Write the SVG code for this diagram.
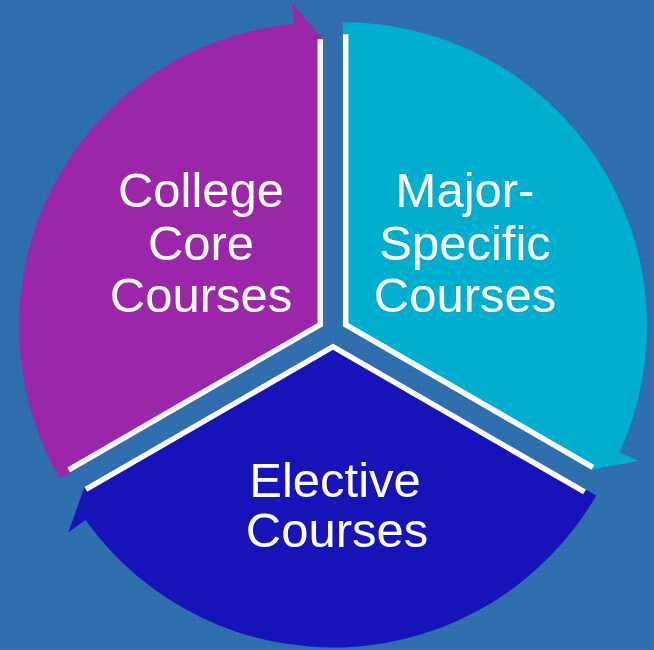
<svg xmlns="http://www.w3.org/2000/svg" width="654" height="650" viewBox="0 0 654 650">
  <style>
    .lbl { font-family: "Liberation Sans", Arial, sans-serif; font-size: 49px; fill: #ffffff; text-anchor: middle; }
    .edge { fill: none; stroke: #ffffff; stroke-width: 11; stroke-linejoin: miter; }
  </style>
  <defs>
    <pattern id="tex" width="8" height="8" patternUnits="userSpaceOnUse">
      <rect width="8" height="8" fill="#2f6fae"/>
      <rect x="0" y="3" width="8" height="1" fill="#2a66a3" opacity="0.6"/>
      <rect x="5" y="0" width="1" height="8" fill="#3574b3" opacity="0.6"/>
    </pattern>
    <path id="wPurple" d="M323,326.25 L59.73,478.25 A304,304 0 0 1 293.86,23.65 L291.85,2.75 L323,39.25 Z"/>
    <path id="wCyan" d="M342.96,326.25 L342.96,22.25 A304,304 0 0 1 619.59,452.32 L638.7,461.02 L591.51,469.75 Z"/>
    <path id="wBlue" d="M333,343.5 L596.27,495.5 A304,304 0 0 1 85.51,520.03 L68.41,532.23 L84.45,487 Z"/>
    <clipPath id="cPurple"><use href="#wPurple"/></clipPath>
    <clipPath id="cCyan"><use href="#wCyan"/></clipPath>
    <clipPath id="cBlue"><use href="#wBlue"/></clipPath>
  </defs>
  <rect width="654" height="650" fill="url(#tex)"/>
  <g id="college-core">
    <use href="#wPurple" fill="#9b26aa"/>
    <path class="edge" clip-path="url(#cPurple)" d="M70.1,472.25 L323,326.25 L323,39.25"/>
    <text class="lbl" x="201" y="207">College</text>
    <text class="lbl" x="201" y="260">Core</text>
    <text class="lbl" x="201" y="312">Courses</text>
  </g>
  <g id="major-specific">
    <use href="#wCyan" fill="#00aecf"/>
    <path class="edge" clip-path="url(#cCyan)" d="M342.96,34.25 L342.96,326.25 L591.51,469.75"/>
    <text class="lbl" x="465" y="207">Major-</text>
    <text class="lbl" x="465" y="260">Specific</text>
    <text class="lbl" x="465" y="312">Courses</text>
  </g>
  <g id="elective">
    <use href="#wBlue" fill="#1614b9"/>
    <path class="edge" clip-path="url(#cBlue)" d="M585.9,489.5 L333,343.5 L84.45,487"/>
    <text class="lbl" x="335" y="497">Elective</text>
    <text class="lbl" x="337" y="547">Courses</text>
  </g>
  <g id="connectors"></g>
</svg>
